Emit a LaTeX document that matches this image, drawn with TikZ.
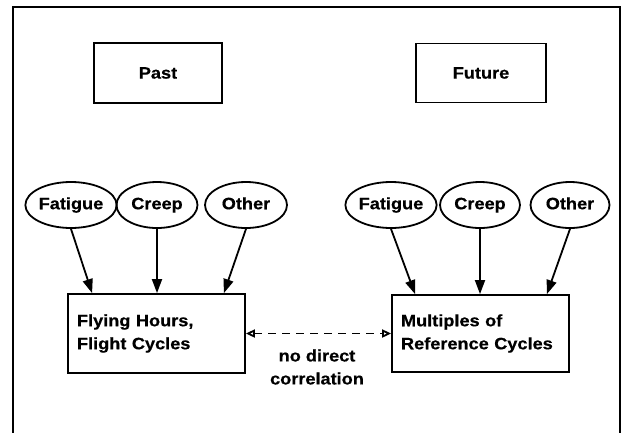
\documentclass[tikz,border=0pt]{standalone}
\usepackage{fontspec}
\setmainfont{Liberation Sans}[FakeStretch=1.1,BoldFeatures={FakeBold=0.6}]
\usetikzlibrary{arrows.meta,shapes.geometric,calc}
\begin{document}
\begin{tikzpicture}[x=1pt,y=-1pt,
  lab/.style={font=\fontsize{16.5}{23}\selectfont\bfseries},
  topbox/.style={draw,line width=1.8,rectangle,lab,inner sep=0},
  cause/.style={draw,line width=1.8,ellipse,lab,inner sep=0,minimum height=46,text height=12,text depth=3.5},
  bigbox/.style={draw,line width=1.8,rectangle,lab,minimum width=177,inner xsep=9,text width=159,align=left},
  arr/.style={line width=1.8,-{Triangle[length=14,width=10]}},
  dasharr/.style={line width=1.8,dash pattern=on 8 off 6,{Triangle[open,length=9,width=8]}-{Triangle[open,length=9,width=8]}}
]
\useasboundingbox (0,0) rectangle (628,432);
\fill[white] (0,0) rectangle (628,432);
\draw[line width=2.8] (13,434) -- (13,7) -- (620,7) -- (620,434);

\node[topbox,minimum width=128,minimum height=60] (past) at (158,73) {Past};
\node[topbox,minimum width=130,minimum height=59] (future) at (481,73) {Future};

\node[cause,minimum width=78] (fat1) at (71,205) {Fatigue};
\node[cause,minimum width=81] (creep1) at (157,205) {Creep};
\node[cause,minimum width=82] (other1) at (246,205) {Other};
\node[cause,minimum width=81] (fat2) at (391,205) {Fatigue};
\node[cause,minimum width=80] (creep2) at (480,205) {Creep};
\node[cause,minimum width=79] (other2) at (570,205) {Other};

\node[bigbox,minimum height=79] (hours) at (156.5,333.5) {Flying Hours,\\Flight Cycles};
\node[bigbox,minimum height=77] (mult) at (480.5,333.5) {Multiples of\\Reference Cycles};

\draw[arr] (fat1.south) -- ($(hours.north west)+(25,0)$);
\draw[arr] (creep1.south) -- (creep1.south |- hours.north);
\draw[arr] (other1.south) -- ($(hours.north east)+(-22,0)$);
\draw[arr] (fat2.south) -- ($(mult.north west)+(24,0)$);
\draw[arr] (creep2.south) -- (creep2.south |- mult.north);
\draw[arr] (other2.south) -- ($(mult.north east)+(-23,0)$);

\draw[dasharr] (hours.east) -- (mult.west);
\node[lab,align=center] (corr) at (317,367) {no direct\\correlation};
\end{tikzpicture}
\end{document}
